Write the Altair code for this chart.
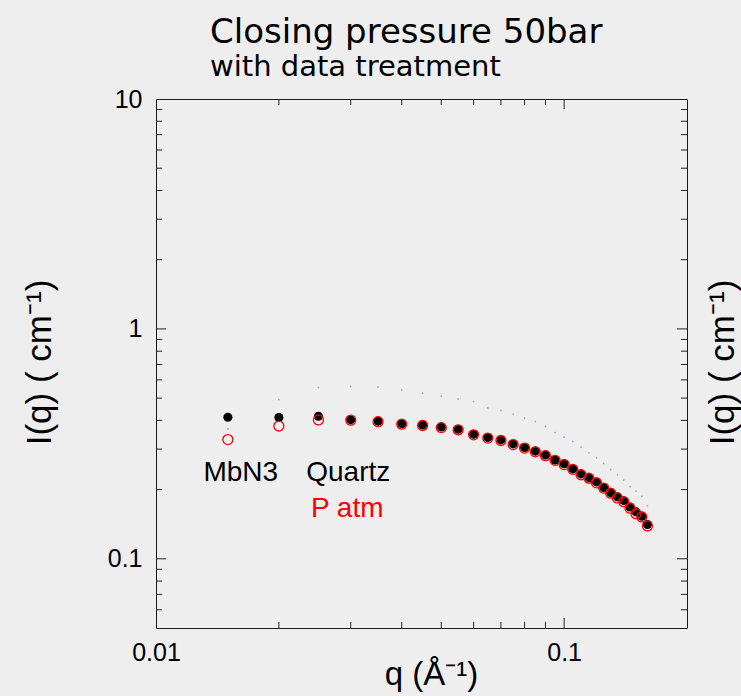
import altair as alt
import pandas as pd

# ---- data ----
q = [0.015, 0.02, 0.025, 0.03, 0.035, 0.04, 0.045, 0.05, 0.055, 0.06,
     0.065, 0.07, 0.075, 0.08, 0.085, 0.09, 0.095, 0.1, 0.105, 0.11,
     0.115, 0.12, 0.125, 0.13, 0.135, 0.14, 0.145, 0.15, 0.155, 0.16]
i_quartz = [0.413, 0.412, 0.417, 0.403, 0.397, 0.387, 0.382, 0.374, 0.366, 0.348,
            0.337, 0.329, 0.316, 0.305, 0.294, 0.283, 0.269, 0.259, 0.246, 0.234,
            0.225, 0.216, 0.204, 0.194, 0.186, 0.179, 0.168, 0.160, 0.153, 0.141]
i_patm = [0.330, 0.378, 0.402, 0.401, 0.395, 0.385, 0.380, 0.372, 0.364, 0.346,
          0.335, 0.327, 0.314, 0.303, 0.292, 0.281, 0.268, 0.257, 0.245, 0.232,
          0.224, 0.214, 0.203, 0.193, 0.184, 0.177, 0.166, 0.157, 0.152, 0.139]
i_faint = [0.367, 0.493, 0.556, 0.562, 0.559, 0.543, 0.525, 0.509, 0.496, 0.483,
           0.453, 0.442, 0.426, 0.409, 0.395, 0.377, 0.354, 0.338, 0.324, 0.306,
           0.289, 0.275, 0.260, 0.244, 0.232, 0.220, 0.206, 0.197, 0.187, 0.170]

x_minor_ticks = [0.02, 0.03, 0.04, 0.05, 0.06, 0.07, 0.08, 0.09]
x_major_ticks = [0.1]
y_minor_ticks = [0.06, 0.07, 0.08, 0.09, 0.2, 0.3, 0.4, 0.5, 0.6, 0.7, 0.8, 0.9,
                 2, 3, 4, 5, 6, 7, 8, 9]
y_major_ticks = [0.1, 1]
x_labels = [0.01, 0.1]
y_labels = [0.1, 1, 10]

note_text = ["MbN3", "Quartz", "P atm"]
note_q = [0.01307, 0.02334, 0.02396]
note_i = [0.2183, 0.2183, 0.1527]
note_color = ["black", "black", "#ff0000"]

# ---- layout ----
W, H = 531, 529
xs = alt.Scale(type="log", domain=[0.01, 0.2], nice=False)
ys = alt.Scale(type="log", domain=[0.05, 10], nice=False)
FONT = "Liberation Sans"
TICK_COLOR = "#222222"

df = pd.DataFrame({"q": q, "quartz": i_quartz, "patm": i_patm, "faint": i_faint})

x_axis = alt.Axis(orient="bottom", values=x_labels, ticks=False, domain=False, grid=False,
                  labelExpr="datum.value < 0.05 ? '0.01' : '0.1'",
                  labelFont=FONT, labelFontSize=25, labelColor="black",
                  labelPadding=12, labelFlush=False,
                  title="q (Å⁻¹)", titleFont=FONT, titleFontSize=33,
                  titleFontWeight="normal", titleColor="black",
                  titleX=275, titleY=56, titleBaseline="alphabetic")
y_axis = alt.Axis(orient="left", values=y_labels, ticks=False, domain=False, grid=False,
                  labelExpr="datum.value < 0.5 ? '0.1' : datum.value < 5 ? '1' : '10'",
                  labelFont=FONT, labelFontSize=25, labelColor="black",
                  labelPadding=14, labelFlush=False,
                  title="I(q) ( cm⁻¹)", titleFont=FONT, titleFontSize=35,
                  titleFontWeight="normal", titleColor="black",
                  titleAngle=270, titleX=-106, titleY=263,
                  titleBaseline="alphabetic", titleAlign="center")
y_axis_right = alt.Axis(orient="right", values=y_labels, ticks=False, domain=False,
                        grid=False, labels=False,
                        title="I(q) ( cm⁻¹)", titleFont=FONT, titleFontSize=35,
                        titleFontWeight="normal", titleColor="black",
                        titleAngle=270, titleX=46, titleY=263,
                        titleBaseline="alphabetic", titleAlign="center")

base = alt.Chart(df)

faint = base.mark_circle(size=3, color="#8080e0", opacity=0.7).encode(
    x=alt.X("q:Q", scale=xs, axis=x_axis),
    y=alt.Y("faint:Q", scale=ys, axis=y_axis),
)
black = base.mark_circle(size=82, color="black", opacity=1).encode(
    x=alt.X("q:Q", scale=xs, axis=None),
    y=alt.Y("quartz:Q", scale=ys, axis=None),
)
red = base.mark_point(shape="circle", size=100, color="#ff0000", filled=False,
                      strokeWidth=1.3, opacity=1).encode(
    x=alt.X("q:Q", scale=xs, axis=None),
    y=alt.Y("patm:Q", scale=ys, axis=None),
)
right_axis = base.mark_point(opacity=0).encode(
    x=alt.X("q:Q", scale=xs, axis=None),
    y=alt.Y("quartz:Q", scale=ys, axis=y_axis_right),
)

notes = alt.Chart(pd.DataFrame({"t": note_text, "q": note_q, "i": note_i, "c": note_color})).mark_text(
    font=FONT, fontSize=28, align="left", baseline="alphabetic"
).encode(
    x=alt.X("q:Q", scale=xs, axis=None),
    y=alt.Y("i:Q", scale=ys, axis=None),
    text="t:N",
    color=alt.Color("c:N", scale=None),
)


def xticks(vals, length, top):
    d = pd.DataFrame({"v": vals})
    if top:
        yy, yy2 = alt.value(0), alt.value(length)
    else:
        yy, yy2 = alt.value(H), alt.value(H - length)
    return alt.Chart(d).mark_rule(color=TICK_COLOR, strokeWidth=1).encode(
        x=alt.X("v:Q", scale=xs, axis=None), y=yy, y2=yy2)


def yticks(vals, length, right):
    d = pd.DataFrame({"v": vals})
    if right:
        xx, xx2 = alt.value(W), alt.value(W - length)
    else:
        xx, xx2 = alt.value(0), alt.value(length)
    return alt.Chart(d).mark_rule(color=TICK_COLOR, strokeWidth=1).encode(
        y=alt.Y("v:Q", scale=ys, axis=None), x=xx, x2=xx2)


tick_layers = [
    xticks(x_minor_ticks, 6, False), xticks(x_major_ticks, 10, False),
    xticks(x_minor_ticks, 6, True), xticks(x_major_ticks, 10, True),
    yticks(y_minor_ticks, 6, False), yticks(y_major_ticks, 10, False),
    yticks(y_minor_ticks, 6, True), yticks(y_major_ticks, 10, True),
]

chart = alt.layer(
    faint, right_axis, *tick_layers, black, red, notes
).resolve_scale(x="independent", y="independent").resolve_axis(
    x="independent", y="independent"
).properties(
    width=W, height=H,
    title=alt.TitleParams(
        text="Closing pressure 50bar", subtitle="with data treatment",
        anchor="start", frame="group", dx=54, offset=5,
        font="DejaVu Sans", fontSize=34, fontWeight="normal", color="black",
        subtitleFont="DejaVu Sans", subtitleFontSize=29, subtitleColor="black",
        subtitlePadding=3,
    ),
    autosize=alt.AutoSizeParams(type="none"),
    padding={"left": 156, "top": 99, "right": 741 - 156 - W, "bottom": 696 - 99 - H},
).configure(background="#eeeeee").configure_view(stroke="#1a1a1a", strokeWidth=1)

chart.save("out.html", embed_options={"renderer": "svg", "actions": False})
